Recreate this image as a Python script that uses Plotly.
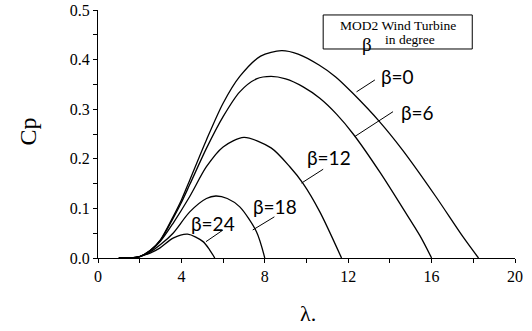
import plotly.graph_objects as go

# ---- data ----
lam_b0 = [1.0, 1.5, 2.0, 2.5, 3.0, 3.6, 4.0, 4.4, 5.2, 6.0, 6.8, 7.8, 8.8, 9.6, 10.6, 11.4, 12.2, 13.5, 14.6, 16.2, 17.5, 18.25]
cp_b0 = [0.0, 0.0005, 0.003, 0.015, 0.037, 0.083, 0.117, 0.157, 0.238, 0.312, 0.366, 0.407, 0.418, 0.411, 0.389, 0.365, 0.333, 0.275, 0.218, 0.124, 0.043, 0.0]

lam_b6 = [1.0, 1.5, 2.0, 2.5, 3.0, 3.6, 4.0, 4.4, 5.2, 6.0, 6.8, 7.6, 8.3, 9.0, 9.84, 10.64, 11.44, 12.24, 13.52, 14.64, 15.44, 16.0]
cp_b6 = [0.0, 0.0005, 0.003, 0.015, 0.036, 0.080, 0.112, 0.148, 0.221, 0.285, 0.335, 0.361, 0.366, 0.361, 0.345, 0.322, 0.290, 0.250, 0.173, 0.099, 0.045, 0.0]

lam_b12 = [1.0, 1.5, 2.0, 2.5, 3.0, 3.6, 4.4, 5.2, 6.0, 7.0, 8.3, 9.2, 9.84, 10.64, 11.68]
cp_b12 = [0.0, 0.0005, 0.003, 0.014, 0.034, 0.070, 0.124, 0.184, 0.224, 0.243, 0.222, 0.184, 0.150, 0.093, 0.0]

lam_b18 = [1.0, 1.5, 2.0, 2.5, 3.0, 3.6, 4.4, 5.2, 5.65, 6.2, 6.8, 7.6, 8.0]
cp_b18 = [0.0, 0.0005, 0.003, 0.012, 0.027, 0.050, 0.093, 0.120, 0.125, 0.120, 0.103, 0.053, 0.0]

lam_b24 = [1.0, 1.5, 2.0, 2.5, 2.96, 3.6, 4.3, 5.04, 5.36, 5.6]
cp_b24 = [0.0, 0.0005, 0.003, 0.010, 0.020, 0.040, 0.048, 0.033, 0.016, 0.0]

series = [
    ("β=0", lam_b0, cp_b0),
    ("β=6", lam_b6, cp_b6),
    ("β=12", lam_b12, cp_b12),
    ("β=18", lam_b18, cp_b18),
    ("β=24", lam_b24, cp_b24),
]

# label text centre and leader line (start on curve, end near text), in data units
label_pos = {
    "β=0": (14.36, 0.365, 12.40, 0.335, 13.28, 0.359),
    "β=6": (15.32, 0.293, 12.32, 0.245, 14.15, 0.295),
    "β=12": (11.06, 0.203, 9.76, 0.151, 10.80, 0.179),
    "β=18": (8.50, 0.103, 7.42, 0.0565, 8.46, 0.083),
    "β=24": (5.50, 0.069, 5.18, 0.033, 5.98, 0.056),
}

x_ticks = [0, 4, 8, 12, 16, 20]
y_ticks = [0.0, 0.1, 0.2, 0.3, 0.4, 0.5]

fig = go.Figure()
for name, xs, ys in series:
    fig.add_trace(go.Scatter(x=xs, y=ys, mode="lines", name=name,
                             line=dict(color="black", width=1.3, shape="spline", smoothing=0.8),
                             showlegend=False, hoverinfo="skip"))

serif = "Liberation Serif, Times New Roman, Times, serif"
sans = "Lato, Open Sans, sans-serif"

annotations = []
shapes = []
for name, (tx, ty, x0, y0, x1, y1) in label_pos.items():
    annotations.append(dict(x=tx, y=ty, xref="x", yref="y", text=name, showarrow=False,
                            xanchor="center", yanchor="middle",
                            font=dict(family=sans, size=19, color="black")))
    shapes.append(dict(type="line", xref="x", yref="y", x0=x0, y0=y0, x1=x1, y1=y1,
                       line=dict(color="black", width=1)))

# info box
shapes.append(dict(type="rect", xref="x", yref="y", x0=10.80, x1=17.95, y0=0.4214, y1=0.490,
                   line=dict(color="black", width=1), fillcolor="white", layer="above"))
annotations.append(dict(x=14.40, y=0.468, xref="x", yref="y", text="MOD2 Wind Turbine",
                        xanchor="center", yanchor="middle",
                        showarrow=False, font=dict(family=serif, size=13.5, color="black")))
annotations.append(dict(x=12.90, y=0.430, xref="x", yref="y", text="β",
                        xanchor="center", yanchor="middle",
                        showarrow=False, font=dict(family=serif, size=19, color="black")))
annotations.append(dict(x=14.96, y=0.441, xref="x", yref="y", text="in degree",
                        xanchor="center", yanchor="middle",
                        showarrow=False, font=dict(family=serif, size=13.5, color="black")))

# axis titles
annotations.append(dict(x=-0.169, y=0.508, xref="paper", yref="paper", text="Cp", textangle=-90,
                        xanchor="center", yanchor="middle",
                        showarrow=False, font=dict(family=serif, size=24, color="black")))
annotations.append(dict(x=0.503, y=-0.222, xref="paper", yref="paper", text="λ.",
                        xanchor="center", yanchor="middle",
                        showarrow=False, font=dict(family=serif, size=22, color="black")))

fig.update_layout(
    template="none",
    width=532, height=331,
    margin=dict(l=98, r=17, t=10, b=73, pad=0),
    paper_bgcolor="white", plot_bgcolor="white",
    annotations=annotations, shapes=shapes,
    xaxis=dict(range=[0, 20], tickvals=x_ticks, ticks="outside", ticklen=4, tickwidth=1,
               tickcolor="black", showline=True, linecolor="black", linewidth=1,
               showgrid=False, zeroline=False, automargin=False,
               tickfont=dict(family=serif, size=16, color="black"),
               minor=dict(dtick=2, ticks="outside", ticklen=4, tickcolor="black", showgrid=False)),
    yaxis=dict(range=[0, 0.5], tickvals=y_ticks, tickformat=".1f", ticks="outside", ticklen=4,
               tickwidth=1, tickcolor="black", showline=True, linecolor="black", linewidth=1,
               showgrid=False, zeroline=False, automargin=False,
               tickfont=dict(family=serif, size=16, color="black"),
               minor=dict(dtick=0.05, ticks="outside", ticklen=4, tickcolor="black", showgrid=False)),
)

fig.write_html("out.html")
